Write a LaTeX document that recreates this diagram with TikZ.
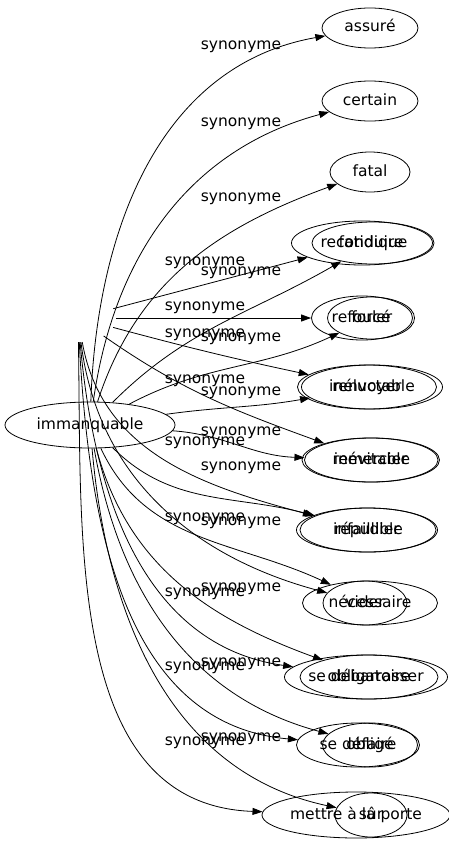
\documentclass[tikz,border=0pt]{standalone}
\usepackage{fontspec}
\setmainfont{DejaVu Sans}
\usetikzlibrary{shapes.geometric, arrows.meta}
\tikzset{
  mot/.style={
    ellipse,
    draw,
    line width=0.8pt,
    inner sep=0pt,
    text height=11.5pt,
    text depth=3.5pt,
    minimum height=42pt,
    font=\fontsize{15.5}{18}\selectfont
  },
  etiq/.style={
    inner sep=0pt,
    text height=11.5pt,
    text depth=3.5pt,
    font=\fontsize{15.5}{18}\selectfont
  },
  syn/.style={
    -{Triangle[length=10pt, width=7pt]},
    line width=0.8pt
  }
}

\begin{document}
\begin{tikzpicture}[x=1pt, y=1pt]
      \useasboundingbox (0,0) rectangle (449,-851);

      % Sources
      \node[mot, minimum width=170pt, minimum height=46pt] (immanquable) at (90,-425) {immanquable};
      \node[ellipse, minimum width=76pt, minimum height=48pt] (srcB) at (78,-318) {};

      % Synonymes (premier graphe)
      \node[mot, minimum width=96pt, minimum height=40pt] (assure) at (370,-28) {assuré};
      \node[mot, minimum width=96pt, minimum height=40pt] (certain) at (370,-101) {certain};
      \node[mot, minimum width=80pt, minimum height=40pt] (fatal) at (370,-172) {fatal};
      \node[mot, minimum width=122pt] (fatidique) at (373,-243) {fatidique};
      \node[mot, minimum width=87pt] (force) at (371,-318) {forcé};
      \node[mot, minimum width=141pt, minimum height=44pt] (ineluctable) at (372,-387) {inéluctable};
      \node[mot, minimum width=135pt, minimum height=44pt] (inevitable) at (372,-460) {inévitable};
      \node[mot, minimum width=136pt, minimum height=44pt] (infaillible) at (368,-530) {infaillible};
      \node[mot, minimum width=135pt, minimum height=44pt] (necessaire) at (370,-603) {nécessaire};
      \node[mot, minimum width=138pt, minimum height=44pt] (obligatoire) at (369,-677) {obligatoire};
      \node[mot, minimum width=95pt, minimum height=44pt] (oblige) at (370,-745) {obligé};
      \node[mot, minimum width=72pt, minimum height=44pt] (sur) at (371,-815) {sûr};

      % Synonymes (second graphe)
      \node[mot, minimum width=141pt, minimum height=44pt] (reconduire) at (362,-243) {reconduire};
      \node[mot, minimum width=101pt, minimum height=44pt] (refouler) at (362,-318) {refouler};
      \node[mot, minimum width=139pt, minimum height=44pt] (renvoyer) at (367,-387) {renvoyer};
      \node[mot, minimum width=136pt, minimum height=44pt] (remercier) at (370,-460) {remercier};
      \node[mot, minimum width=141pt, minimum height=44pt] (repudier) at (367,-530) {répudier};
      \node[mot, minimum width=84pt, minimum height=44pt] (vider) at (365,-603) {vider};
      \node[mot, minimum width=152pt, minimum height=44pt] (debarrasser) at (366,-677) {se débarrasser};
      \node[mot, minimum width=123pt, minimum height=44pt] (defaire) at (358,-745) {se défaire};
      \node[mot, minimum width=188pt, minimum height=46pt] (porte) at (356,-815) {mettre à la porte};

      % Liens du premier graphe
      \draw[syn] (immanquable) to[out=88, in=190] (assure);
      \draw[syn] (immanquable) to[out=82, in=195] (certain);
      \draw[syn] (immanquable) to[out=72, in=200] (fatal);
      \draw[syn] (immanquable) to[out=45, in=210] (fatidique);
      \draw[syn] (immanquable) to[out=28, in=205] (force);
      \draw[syn] (immanquable) to[out=8, in=190] (ineluctable);
      \draw[syn] (immanquable) to[out=-4, in=178] (inevitable);
      \draw[syn] (immanquable) to[out=-45, in=165] (infaillible);
      \draw[syn] (immanquable) to[out=-65, in=155] (necessaire);
      \draw[syn] (immanquable) to[out=-75, in=160] (obligatoire);
      \draw[syn] (immanquable) to[out=-80, in=165] (oblige);
      \draw[syn] (immanquable) to[out=-85, in=168] (sur);

      % Liens du second graphe
      \draw[syn] (srcB) -- (reconduire);
      \draw[syn] (srcB) -- (refouler);
      \draw[syn] (srcB) to[out=-15, in=168] (renvoyer);
      \draw[syn] (srcB) to[out=-35, in=160] (remercier);
      \draw[syn] (srcB) to[out=-80, in=165] (repudier);
      \draw[syn] (srcB) to[out=-83, in=165] (vider);
      \draw[syn] (srcB) to[out=-85, in=172] (debarrasser);
      \draw[syn] (srcB) to[out=-87, in=175] (defaire);
      \draw[syn] (srcB) to[out=-89, in=178] (porte);

      % Etiquettes
      \node[etiq] (la1) at (241,-45) {synonyme};
      \node[etiq] (la2) at (241,-122) {synonyme};
      \node[etiq] (la3) at (241,-197) {synonyme};
      \node[etiq] (la4) at (241,-271) {synonyme};
      \node[etiq] (la5) at (241,-337) {synonyme};
      \node[etiq] (la6) at (241,-391) {synonyme};
      \node[etiq] (la7) at (241,-431) {synonyme};
      \node[etiq] (la8) at (241,-466) {synonyme};
      \node[etiq] (la9) at (241,-521) {synonyme};
      \node[etiq] (la10) at (241,-587) {synonyme};
      \node[etiq] (la11) at (241,-662) {synonyme};
      \node[etiq] (la12) at (241,-737) {synonyme};
      \node[etiq] (lb1) at (205,-261) {synonyme};
      \node[etiq] (lb2) at (205,-306) {synonyme};
      \node[etiq] (lb3) at (205,-333) {synonyme};
      \node[etiq] (lb4) at (205,-379) {synonyme};
      \node[etiq] (lb5) at (205,-441) {synonyme};
      \node[etiq] (lb6) at (205,-517) {synonyme};
      \node[etiq] (lb7) at (205,-592) {synonyme};
      \node[etiq] (lb8) at (205,-666) {synonyme};
      \node[etiq] (lb9) at (205,-741) {synonyme};
\end{tikzpicture}
\end{document}
